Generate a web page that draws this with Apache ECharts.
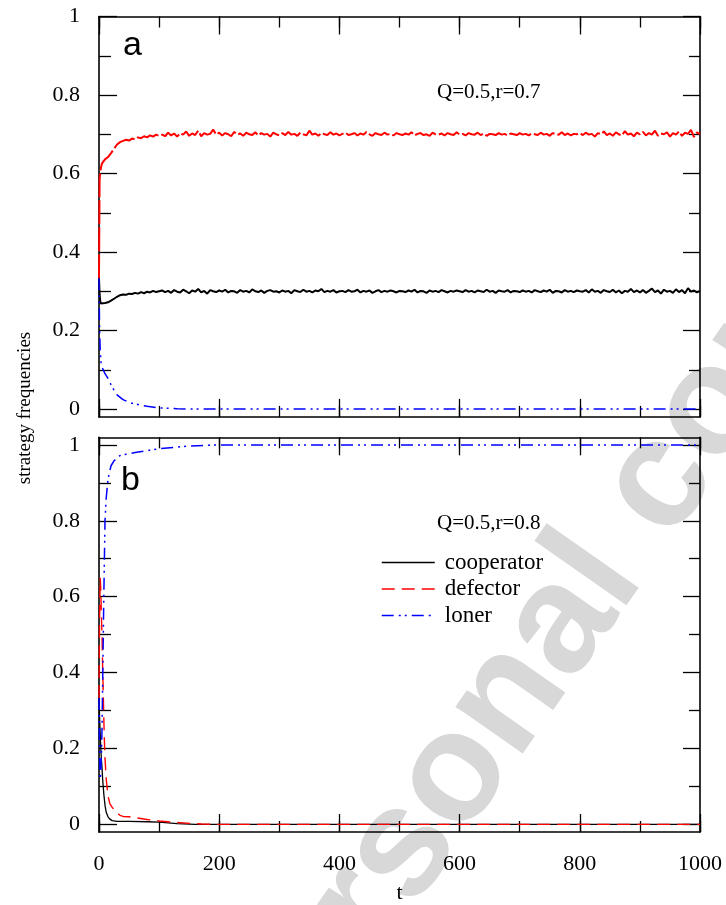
<!DOCTYPE html>
<html><head><meta charset="utf-8">
<script src="https://cdn.jsdelivr.net/npm/echarts@6/dist/echarts.min.js"></script>
<style>html,body{margin:0;padding:0;background:#fff}#c{width:726px;height:905px}</style>
</head><body><div id="c"></div>
<script>
// ---------- tick labels ----------
const yTicksMajor = [0, 0.2, 0.4, 0.6, 0.8, 1];
const yTicksMinor = [0.1, 0.3, 0.5, 0.7, 0.9];
const names = ['cooperator', 'defector', 'loner'];
const panelTitles = ['Q=0.5,r=0.7', 'Q=0.5,r=0.8'];
const panelLetters = ['a', 'b'];

// ---------- panel a (Q=0.5, r=0.7) ----------
// noisy series sampled at t = 0,1,2,3,4 and then every 5 steps up to 1000
const tEarlyA = [0, 1, 2, 3, 4];
const tStepA = 5;
const defA = [
  0.333, 0.585, 0.603, 0.612, 0.620,
  0.626, 0.636, 0.642, 0.652, 0.663, 0.674, 0.680, 0.683, 0.686, 0.684, 0.689, 0.687, 0.692, 0.690, 0.695, 0.692, 0.697, 0.694, 0.699, 0.696,
  0.699, 0.695, 0.704, 0.697, 0.702, 0.694, 0.703, 0.699, 0.707, 0.696, 0.702, 0.698, 0.709, 0.695, 0.703, 0.699, 0.701, 0.712, 0.699, 0.704,
  0.697, 0.703, 0.700, 0.695, 0.706, 0.699, 0.702, 0.696, 0.704, 0.700, 0.698, 0.705, 0.697, 0.703, 0.699, 0.701, 0.694, 0.704, 0.700, 0.697,
  0.703, 0.698, 0.706, 0.699, 0.701, 0.696, 0.704, 0.700, 0.697, 0.709, 0.699, 0.702, 0.696, 0.703, 0.700, 0.698, 0.705, 0.699, 0.702, 0.697,
  0.701, 0.704, 0.698, 0.700, 0.703, 0.697, 0.702, 0.699, 0.706, 0.700, 0.696, 0.703, 0.700, 0.698, 0.704, 0.699, 0.701, 0.697, 0.703, 0.700,
  0.698, 0.702, 0.699, 0.705, 0.697, 0.701, 0.703, 0.698, 0.700, 0.696, 0.704, 0.700, 0.699, 0.702, 0.697, 0.703, 0.700, 0.698, 0.705, 0.699,
  0.701, 0.697, 0.703, 0.700, 0.699, 0.704, 0.698, 0.702, 0.696, 0.701, 0.700, 0.698, 0.703, 0.699, 0.701, 0.697, 0.702, 0.700, 0.698, 0.703,
  0.699, 0.701, 0.697, 0.702, 0.700, 0.698, 0.704, 0.699, 0.701, 0.696, 0.703, 0.700, 0.699, 0.705, 0.698, 0.702, 0.697, 0.701, 0.700, 0.703,
  0.698, 0.704, 0.699, 0.701, 0.694, 0.703, 0.700, 0.707, 0.698, 0.702, 0.696, 0.705, 0.700, 0.697, 0.708, 0.699, 0.702, 0.695, 0.704, 0.700,
  0.706, 0.697, 0.703, 0.699, 0.709, 0.696, 0.702, 0.700, 0.705, 0.694, 0.703, 0.699, 0.707, 0.696, 0.704, 0.701, 0.711, 0.693, 0.705, 0.700
];
const coopA = [
  0.333, 0.292, 0.276, 0.269, 0.266,
  0.267, 0.270, 0.272, 0.276, 0.281, 0.286, 0.290, 0.292, 0.291, 0.294, 0.293, 0.296, 0.294, 0.298, 0.295, 0.299, 0.297, 0.301, 0.298, 0.300,
  0.302, 0.298, 0.301, 0.296, 0.303, 0.299, 0.297, 0.304, 0.300, 0.295, 0.302, 0.299, 0.306, 0.297, 0.301, 0.294, 0.303, 0.300, 0.298, 0.302,
  0.299, 0.304, 0.297, 0.301, 0.300, 0.296, 0.303, 0.299, 0.301, 0.297, 0.305, 0.300, 0.298, 0.302, 0.296, 0.301, 0.303, 0.299, 0.300, 0.297,
  0.302, 0.299, 0.301, 0.295, 0.303, 0.300, 0.298, 0.304, 0.299, 0.301, 0.297, 0.302, 0.300, 0.306, 0.298, 0.301, 0.299, 0.303, 0.297, 0.300,
  0.301, 0.298, 0.303, 0.299, 0.300, 0.304, 0.297, 0.301, 0.299, 0.302, 0.296, 0.300, 0.303, 0.298, 0.301, 0.299, 0.302, 0.300, 0.297, 0.301,
  0.300, 0.298, 0.302, 0.299, 0.304, 0.297, 0.301, 0.300, 0.296, 0.302, 0.299, 0.301, 0.298, 0.303, 0.300, 0.297, 0.301, 0.299, 0.302, 0.300,
  0.298, 0.303, 0.299, 0.301, 0.297, 0.302, 0.300, 0.298, 0.304, 0.299, 0.301, 0.296, 0.302, 0.300, 0.299, 0.303, 0.297, 0.301, 0.300, 0.298,
  0.302, 0.299, 0.301, 0.297, 0.303, 0.300, 0.298, 0.302, 0.299, 0.304, 0.296, 0.301, 0.300, 0.297, 0.303, 0.299, 0.301, 0.298, 0.302, 0.300,
  0.299, 0.303, 0.297, 0.305, 0.299, 0.301, 0.296, 0.303, 0.300, 0.298, 0.304, 0.297, 0.302, 0.295, 0.301, 0.299, 0.306, 0.298, 0.302, 0.297,
  0.303, 0.296, 0.301, 0.307, 0.298, 0.302, 0.294, 0.304, 0.299, 0.301, 0.296, 0.305, 0.298, 0.303, 0.295, 0.308, 0.299, 0.302, 0.297, 0.301
];
const tLonerA = [0, 1, 2, 3, 4, 5, 10, 15, 20, 25, 30, 40, 50, 60, 70, 80, 100, 130, 150, 1000];
const lonerA  = [0.333, 0.200, 0.150, 0.125, 0.110, 0.105, 0.090, 0.078, 0.062, 0.048, 0.036, 0.024, 0.017, 0.013, 0.010, 0.007, 0.003, 0.001, 0, 0];

// ---------- panel b (Q=0.5, r=0.8) ----------
const tCoopB = [0, 1, 2, 3, 4, 5, 6, 7, 8, 10, 12, 15, 18, 22, 30, 50, 80, 100, 130, 160, 1000];
const coopB  = [0.333, 0.280, 0.240, 0.200, 0.170, 0.150, 0.120, 0.100, 0.080, 0.050, 0.032, 0.020, 0.014, 0.010, 0.008, 0.008, 0.007, 0.006, 0.002, 0, 0];
const tDefB = [0, 1, 2, 3, 4, 5, 6, 7, 8, 9, 10, 12, 15, 18, 22, 26, 30, 35, 40, 50, 60, 80, 100, 130, 170, 200, 1000];
const defB  = [0.333, 0.550, 0.650, 0.620, 0.550, 0.500, 0.420, 0.350, 0.280, 0.220, 0.174, 0.120, 0.075, 0.055, 0.045, 0.036, 0.030, 0.024, 0.021, 0.020, 0.018, 0.013, 0.009, 0.005, 0.001, 0, 0];
const tLonerB = [0, 1, 2, 3, 4, 5, 6, 7, 8, 9, 10, 12, 15, 20, 25, 35, 60, 100, 150, 200, 1000];
const lonerB  = [0.333, 0.170, 0.120, 0.140, 0.180, 0.250, 0.360, 0.480, 0.600, 0.700, 0.800, 0.860, 0.910, 0.945, 0.958, 0.972, 0.980, 0.990, 0.997, 1, 1];

// ---------- build ----------
const tA = tEarlyA.slice();
for (let t = tStepA; t <= 1000; t += tStepA) tA.push(t);
function pairs(ts, vs) {
  if (ts.length !== vs.length) throw new Error('length mismatch ' + ts.length + ' vs ' + vs.length);
  return ts.map((t, i) => [t, vs[i]]);
}

const SERIF = 'Liberation Serif';
const BLACK = '#000';
const DASH_DEF = [13, 7];
const DASH_LON = [12, 5, 2, 4, 2, 5];

const grids = [
  { left: 99, top: 16.5, width: 601, height: 400.4 },
  { left: 99, top: 437.3, width: 601, height: 400.7 }
];
const yRanges = [[-0.02, 1.0], [-0.02, 1.02]];

const xAxes = [], yAxes = [];
grids.forEach((g, gi) => {
  ['bottom', 'top'].forEach(pos => {
    // major
    xAxes.push({
      gridIndex: gi, type: 'value', position: pos, offset: 0, min: 0, max: 1000, interval: 200,
      axisLine: { show: true, onZero: false, lineStyle: { color: BLACK, width: 1.6 } },
      axisTick: { show: true, inside: true, length: 18, lineStyle: { color: BLACK, width: 1.3 } },
      axisLabel: { show: gi === 1 && pos === 'bottom', margin: 21, fontFamily: SERIF, fontSize: 22, color: BLACK,
        formatter: v => String(v) },
      splitLine: { show: false },
      name: (gi === 1 && pos === 'bottom') ? 't' : '',
      nameLocation: 'middle', nameGap: 50,
      nameTextStyle: { fontFamily: SERIF, fontSize: 22, color: BLACK }
    });
    // minor
    xAxes.push({
      gridIndex: gi, type: 'value', position: pos, offset: 0, min: 0, max: 1000, interval: 100,
      axisLine: { show: false, onZero: false },
      axisTick: { show: true, inside: true, length: 11, lineStyle: { color: BLACK, width: 1.3 } },
      axisLabel: { show: false }, splitLine: { show: false }
    });
  });
  ['left', 'right'].forEach(pos => {
    yAxes.push({
      gridIndex: gi, type: 'value', position: pos, offset: 0, min: yRanges[gi][0], max: yRanges[gi][1],
      axisLine: { show: true, onZero: false, lineStyle: { color: BLACK, width: 1.6 } },
      axisTick: { show: true, inside: true, length: pos === 'left' ? 18 : 17, customValues: yTicksMajor, lineStyle: { color: BLACK, width: 1.3 } },
      axisLabel: { show: pos === 'left', customValues: yTicksMajor, margin: 19, fontFamily: SERIF, fontSize: 22, color: BLACK,
        formatter: v => String(v) },
      splitLine: { show: false }
    });
    yAxes.push({
      gridIndex: gi, type: 'value', position: pos, offset: 0, min: yRanges[gi][0], max: yRanges[gi][1],
      axisLine: { show: false, onZero: false },
      axisTick: { show: true, inside: true, length: pos === 'left' ? 12 : 11, customValues: yTicksMinor, lineStyle: { color: BLACK, width: 1.3 } },
      axisLabel: { show: false }, splitLine: { show: false }
    });
  });
});

function line(name, gi, data, color, width, dash) {
  return {
    type: 'line', name, xAxisIndex: gi * 4, yAxisIndex: gi * 4, data,
    symbol: 'none', showSymbol: false, silent: true, animation: false,
    lineStyle: { color, width, type: dash || 'solid' }, itemStyle: { color }, z: 3
  };
}

const series = [
  // panel b
  line(names[0], 1, pairs(tCoopB, coopB), '#000000', 1.3),
  line(names[1], 1, pairs(tDefB, defB), '#ff0000', 1.4, DASH_DEF),
  line(names[2], 1, pairs(tLonerB, lonerB), '#0000ff', 1.5, DASH_LON),
  // panel a
  line(names[0], 0, pairs(tA, coopA), '#000000', 2.0),
  line(names[1], 0, pairs(tA, defA), '#ff0000', 2.0, [24, 3]),
  line(names[2], 0, pairs(tLonerA, lonerA), '#0000ff', 1.5, DASH_LON)
];

const hiddenMark = { color: 'transparent', borderColor: 'transparent', borderWidth: 0 };
const option = {
  backgroundColor: '#fff',
  animation: false,
  grid: grids,
  xAxis: xAxes,
  yAxis: yAxes,
  series,
  legend: {
    orient: 'vertical', left: 381, top: 551, padding: 0, itemWidth: 53, itemHeight: 14, itemGap: 3.5,
    selectedMode: false,
    itemStyle: hiddenMark,
    textStyle: { fontFamily: SERIF, fontSize: 23, color: BLACK, padding: [0, 0, 0, 5] },
    data: [
      { name: names[0], itemStyle: hiddenMark, lineStyle: { color: '#000000', width: 1.3, type: 'solid' } },
      { name: names[1], itemStyle: hiddenMark, lineStyle: { color: '#ff0000', width: 1.4, type: DASH_DEF } },
      { name: names[2], itemStyle: hiddenMark, lineStyle: { color: '#0000ff', width: 1.5, type: DASH_LON } }
    ]
  },
  graphic: [
    { type: 'text', z: -10, x: 298, y: 1135, rotation: 0.96,
      style: { text: 'Personal copy', fontFamily: 'Liberation Sans', fontWeight: 'bold', fontSize: 155, fill: '#d8d8d8', align: 'left', verticalAlign: 'bottom' } },
    { type: 'text', x: 123, y: 45.5, style: { text: panelLetters[0], fontFamily: 'Liberation Sans', fontSize: 34, fill: BLACK, align: 'left', verticalAlign: 'middle' } },
    { type: 'text', x: 121, y: 481, style: { text: panelLetters[1], fontFamily: 'Liberation Sans', fontSize: 34, fill: BLACK, align: 'left', verticalAlign: 'middle' } },
    { type: 'text', x: 437, y: 92.5, style: { text: panelTitles[0], fontFamily: SERIF, fontSize: 21, fill: BLACK, align: 'left', verticalAlign: 'middle' } },
    { type: 'text', x: 437, y: 523, style: { text: panelTitles[1], fontFamily: SERIF, fontSize: 21, fill: BLACK, align: 'left', verticalAlign: 'middle' } },
    { type: 'text', x: 25, y: 408, rotation: Math.PI / 2, style: { text: 'strategy frequencies', fontFamily: SERIF, fontSize: 19, fill: BLACK, align: 'center', verticalAlign: 'middle' } }
  ]
};

const chart = echarts.init(document.getElementById('c'), null, { renderer: 'canvas', width: 726, height: 905 });
chart.setOption(option);
</script>
</body></html>
